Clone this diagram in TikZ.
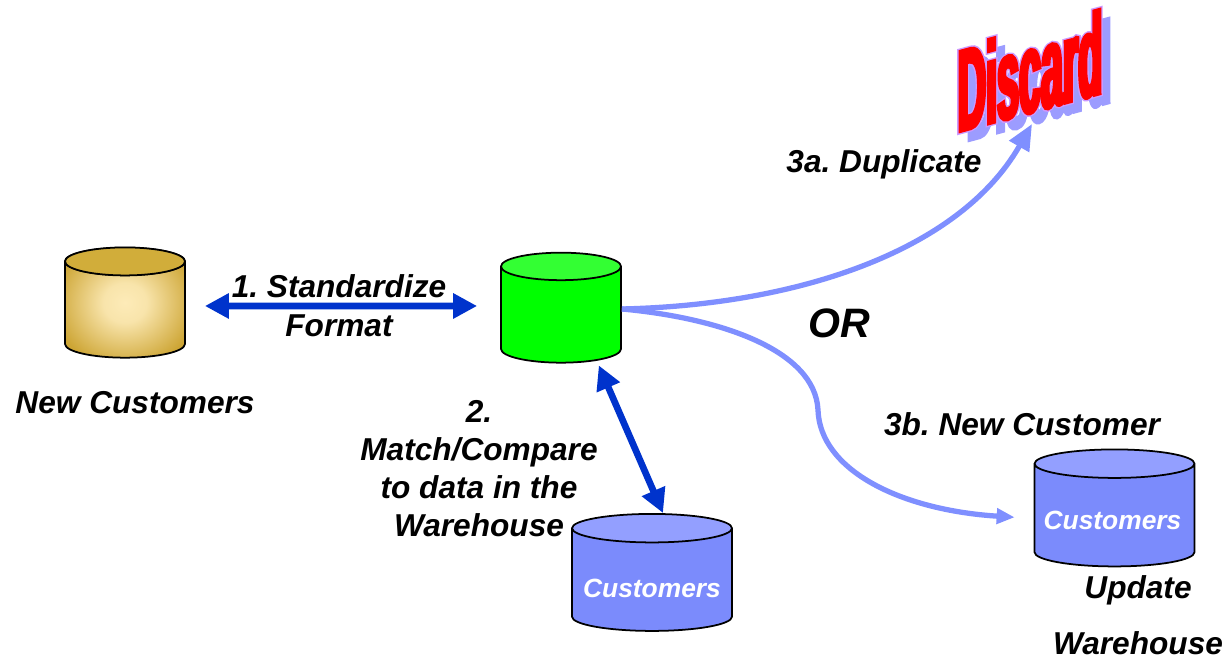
\documentclass[tikz,border=0pt]{standalone}
\usepackage{fontspec}
\setmainfont{Liberation Sans}
\newfontfamily\discardfont[FakeStretch=.34]{Liberation Sans Bold}
\usetikzlibrary{shapes.geometric, arrows.meta, calc}
\definecolor{dbblue}{HTML}{7B8BFC}
\definecolor{dbbluetop}{HTML}{939FFF}
\definecolor{arrowblue}{HTML}{0033CC}
\definecolor{curveblue}{HTML}{7F8FFF}
\definecolor{dbgold}{HTML}{CDA534}
\definecolor{dbgoldtop}{HTML}{D1AD3A}
\definecolor{dbcream}{HTML}{FDEBB8}
\definecolor{shadowblue}{HTML}{9C9CFF}
\pgfdeclareradialshading{goldglow}{\pgfpoint{0bp}{0bp}}{%
    color(0bp)=(dbcream); color(9bp)=(dbcream!90!dbgold);
    color(30bp)=(dbgold); color(50bp)=(dbgold)}
\newcommand{\discardtext}[3]{\textcolor{#1}{\special{pdf:code 2 Tr #3 w #2}Discard\special{pdf:code 0 Tr}}}
\frenchspacing
\tikzset{
    every node/.style={font=\fontsize{9}{10.8}\selectfont\bfseries\itshape},
    db/.style={
        cylinder, shape border rotate=90, aspect=.25, draw=black, line width=.5pt,
        minimum width=1.2cm, minimum height=1.1cm, inner sep=0pt, text width=1.1cm,
        cylinder uses custom fill},
    bigdb/.style={db, minimum width=1.6cm, minimum height=1.17cm, text width=1.5cm, aspect=.19,
        align=center,
        cylinder body fill=dbblue, cylinder end fill=dbbluetop,
        text=white, font=\fontsize{7.5}{9}\selectfont\bfseries\itshape},
    bothway/.style={{Triangle[length=.24cm,width=.24cm]}-{Triangle[length=.24cm,width=.24cm]},
        line width=1.9pt, arrowblue},
    curve/.style={line width=1.5pt, curveblue},
    wordart/.style={yslant=.27, transform shape, inner sep=0pt,
        font=\fontsize{33}{33}\selectfont\discardfont}
}

\begin{document}
\begin{tikzpicture}
    \useasboundingbox (0, 0) rectangle (12.27, 6.59);

    % Databases
    \node[db, shading=goldglow, cylinder uses custom fill=false] (newdb) at (1.25, 3.49) {};
    \draw[black, line width=.5pt, fill=dbgoldtop]
        ($(newdb.before top)!.5!(newdb.after top)$) ellipse (.6 and .14);
    \node[db, cylinder body fill=green, cylinder end fill=green!80!white] (stddb) at (5.61, 3.44) {};
    \node[bigdb, text height=.35cm] (whdb) at (6.52, .79) {Customers};
    \node[bigdb, text height=.28cm] (updb) at (11.145, 1.435) {\hspace{-.04cm}Customers};

    % Discard word
    \node[wordart] (discardshadow) at (10.39, 5.79) {\discardtext{shadowblue}{0.61 0.61 1 RG}{1}};
    \node[wordart] (discardedge) at (10.30, 5.88) {\discardtext{red}{0.8 0.6 1 RG}{1.8}};
    \node[wordart] (discard) at (10.30, 5.88) {\discardtext{red}{1 0 0 RG}{1}};
    \coordinate (discardtip) at (10.32, 5.35);

    % Arrows
    \draw[bothway, shorten <=.19cm, shorten >=.23cm] ([yshift=.04cm]newdb.east) -- ([yshift=.09cm]stddb.west);
    \draw[bothway, shorten <=.02cm] ([xshift=.37cm]stddb.bottom) -- ([xshift=.11cm]whdb.top);
    \draw[curve, -{Triangle[length=.26cm,width=.22cm]}] ([yshift=.06cm]stddb.east)
        .. controls (8.00, 3.54) and (9.60, 4.09) .. (discardtip);
    \draw[curve, -{Triangle[length=.18cm,width=.15cm]}, shorten >=.19cm] ([yshift=.06cm]stddb.east)
        .. controls (7.20, 3.41) and (8.15, 3.09) .. (8.18, 2.49)
        .. controls (8.20, 1.89) and (9.00, 1.49) .. ([yshift=-.03cm]updb.west);

    % Labels
    \node at (1.35, 2.56) {New Customers};
    \node[align=center] at (3.39, 3.53) {1. Standardize\\[.3pt]Format};
    \node[align=center] at (4.79, 1.90) {2.\\Match/Compare\\to data in the\\Warehouse};
    \node at (8.84, 4.95) {3a. Duplicate};
    \node[font=\fontsize{11.7}{14}\selectfont\bfseries\itshape] at (8.39, 3.36) {OR};
    \node at (10.22, 2.35) {3b. New Customer};
    \node[align=center] at (11.38, .44) {Update\\[5.2pt]Warehouse};
\end{tikzpicture}
\end{document}
